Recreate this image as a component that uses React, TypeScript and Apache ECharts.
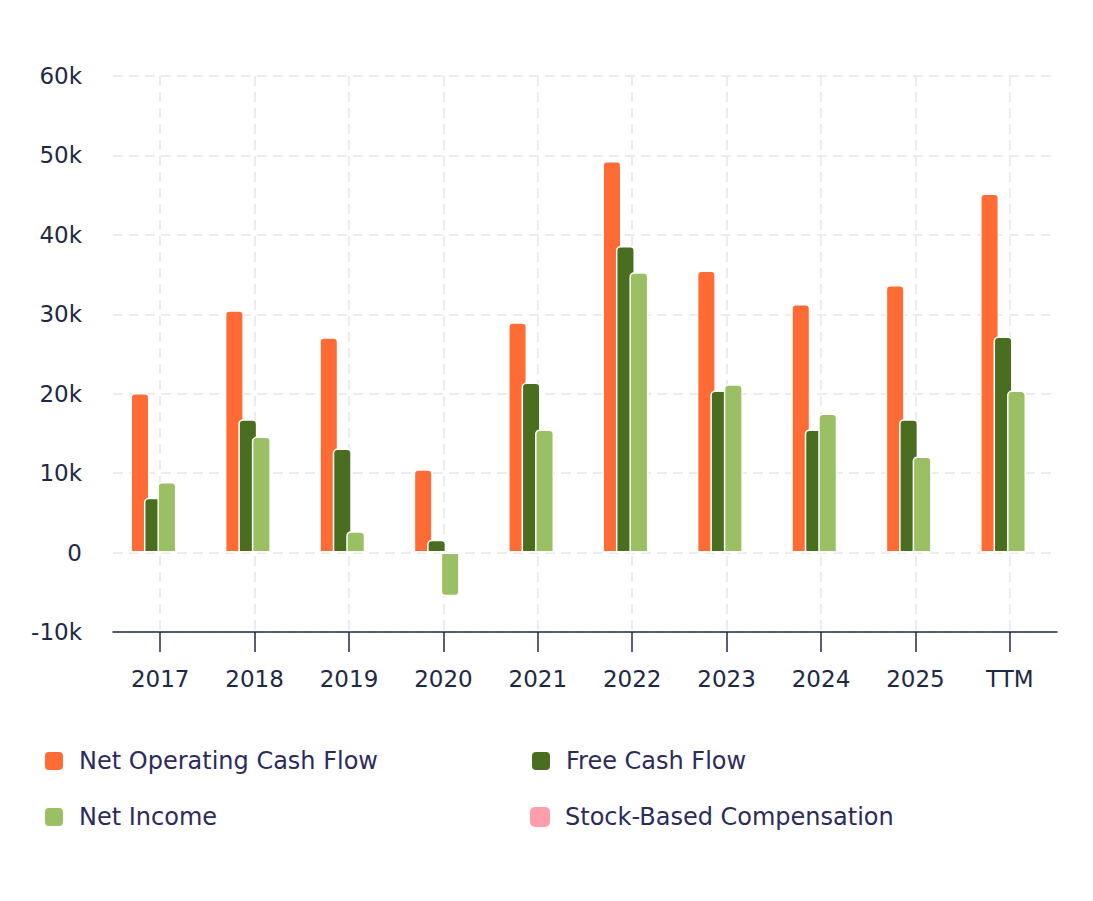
import React, { useEffect, useRef } from "react";
import * as echarts from "echarts";

const categories = ["2017", "2018", "2019", "2020", "2021", "2022", "2023", "2024", "2025", "TTM"];
const netOperatingCashFlow = [20100, 30500, 27100, 10500, 29000, 49300, 35500, 31300, 33700, 45200];
const freeCashFlow = [6900, 16800, 13100, 1600, 21400, 38600, 20400, 15500, 16800, 27200];
const netIncome = [8900, 14600, 2700, -5500, 15500, 35300, 21200, 17500, 12100, 20400];
const stockBasedCompensation = [0, 0, 0, 0, 0, 0, 0, 0, 0, 0];
const seriesNames = ["Net Operating Cash Flow", "Free Cash Flow", "Net Income", "Stock-Based Compensation"];
const seriesColors = ["#ff6b35", "#4a6e1f", "#9bc063", "#ff9eab"];

const FONT = "'DejaVu Sans', sans-serif";

export default function App() {
  const ref = useRef<HTMLDivElement>(null);
  useEffect(() => {
    if (!ref.current) return;
    const chart = echarts.init(ref.current, undefined, { renderer: "svg" });
    const dataSets = [netOperatingCashFlow, freeCashFlow, netIncome, stockBasedCompensation];
    const legendPos = [
      { left: 43, top: 749 },
      { left: 530, top: 749 },
      { left: 43, top: 805 },
      { left: 530, top: 805 },
    ];
    const option: any = {
      animation: false,
      backgroundColor: "#ffffff",
      grid: { left: 113, right: 36, top: 76, bottom: 269, containLabel: false },
      legend: seriesNames.map((n, i) => ({
        data: [n],
        left: legendPos[i].left,
        top: legendPos[i].top,
        padding: 0,
        icon: "roundRect",
        itemWidth: 20,
        itemHeight: 20,
        selectedMode: false,
        textStyle: {
          fontFamily: FONT,
          fontSize: 24,
          color: "#2d2b5c",
          padding: [0, 0, 0, 10],
        },
      })),
      xAxis: {
        type: "category",
        data: categories,
        boundaryGap: true,
        axisLine: { show: true, onZero: false, lineStyle: { color: "#1e2a44", width: 1.5 } },
        axisTick: { show: true, alignWithLabel: true, length: 20, lineStyle: { color: "#1e2a44", width: 1.5 } },
        axisLabel: { fontFamily: FONT, fontSize: 23, color: "#1e2a44", margin: 35 },
        splitLine: {
          show: true,
          alignWithLabel: true,
          lineStyle: { color: "#e6e6e6", width: 1.5, type: [10, 6] },
        },
      },
      yAxis: {
        type: "value",
        min: -10000,
        max: 60000,
        interval: 10000,
        axisLine: { show: false },
        axisTick: { show: false },
        axisLabel: {
          fontFamily: FONT,
          fontSize: 23,
          color: "#1e2a44",
          margin: 31,
          formatter: (v: number) => (v === 0 ? "0" : v / 1000 + "k"),
        },
        splitLine: { show: true, lineStyle: { color: "#e6e6e6", width: 1.5, type: [10, 6] } },
      },
      series: dataSets.map((d, i) => ({
        name: seriesNames[i],
        type: "bar",
        barWidth: 19,
        barGap: "-29%",
        data: d.map((v) =>
          v < 0 ? { value: v, itemStyle: { borderRadius: [0, 0, 4, 4] } } : v
        ),
        itemStyle: {
          color: seriesColors[i],
          borderColor: "#ffffff",
          borderWidth: i === 3 ? 0 : 1.5,
          borderRadius: [4, 4, 0, 0],
        },
      })),
    };
    chart.setOption(option);
    return () => chart.dispose();
  }, []);
  return (
    <div
      ref={ref}
      style={{ position: "fixed", left: 0, top: 0, width: 1093, height: 901, background: "#fff" }}
    />
  );
}
